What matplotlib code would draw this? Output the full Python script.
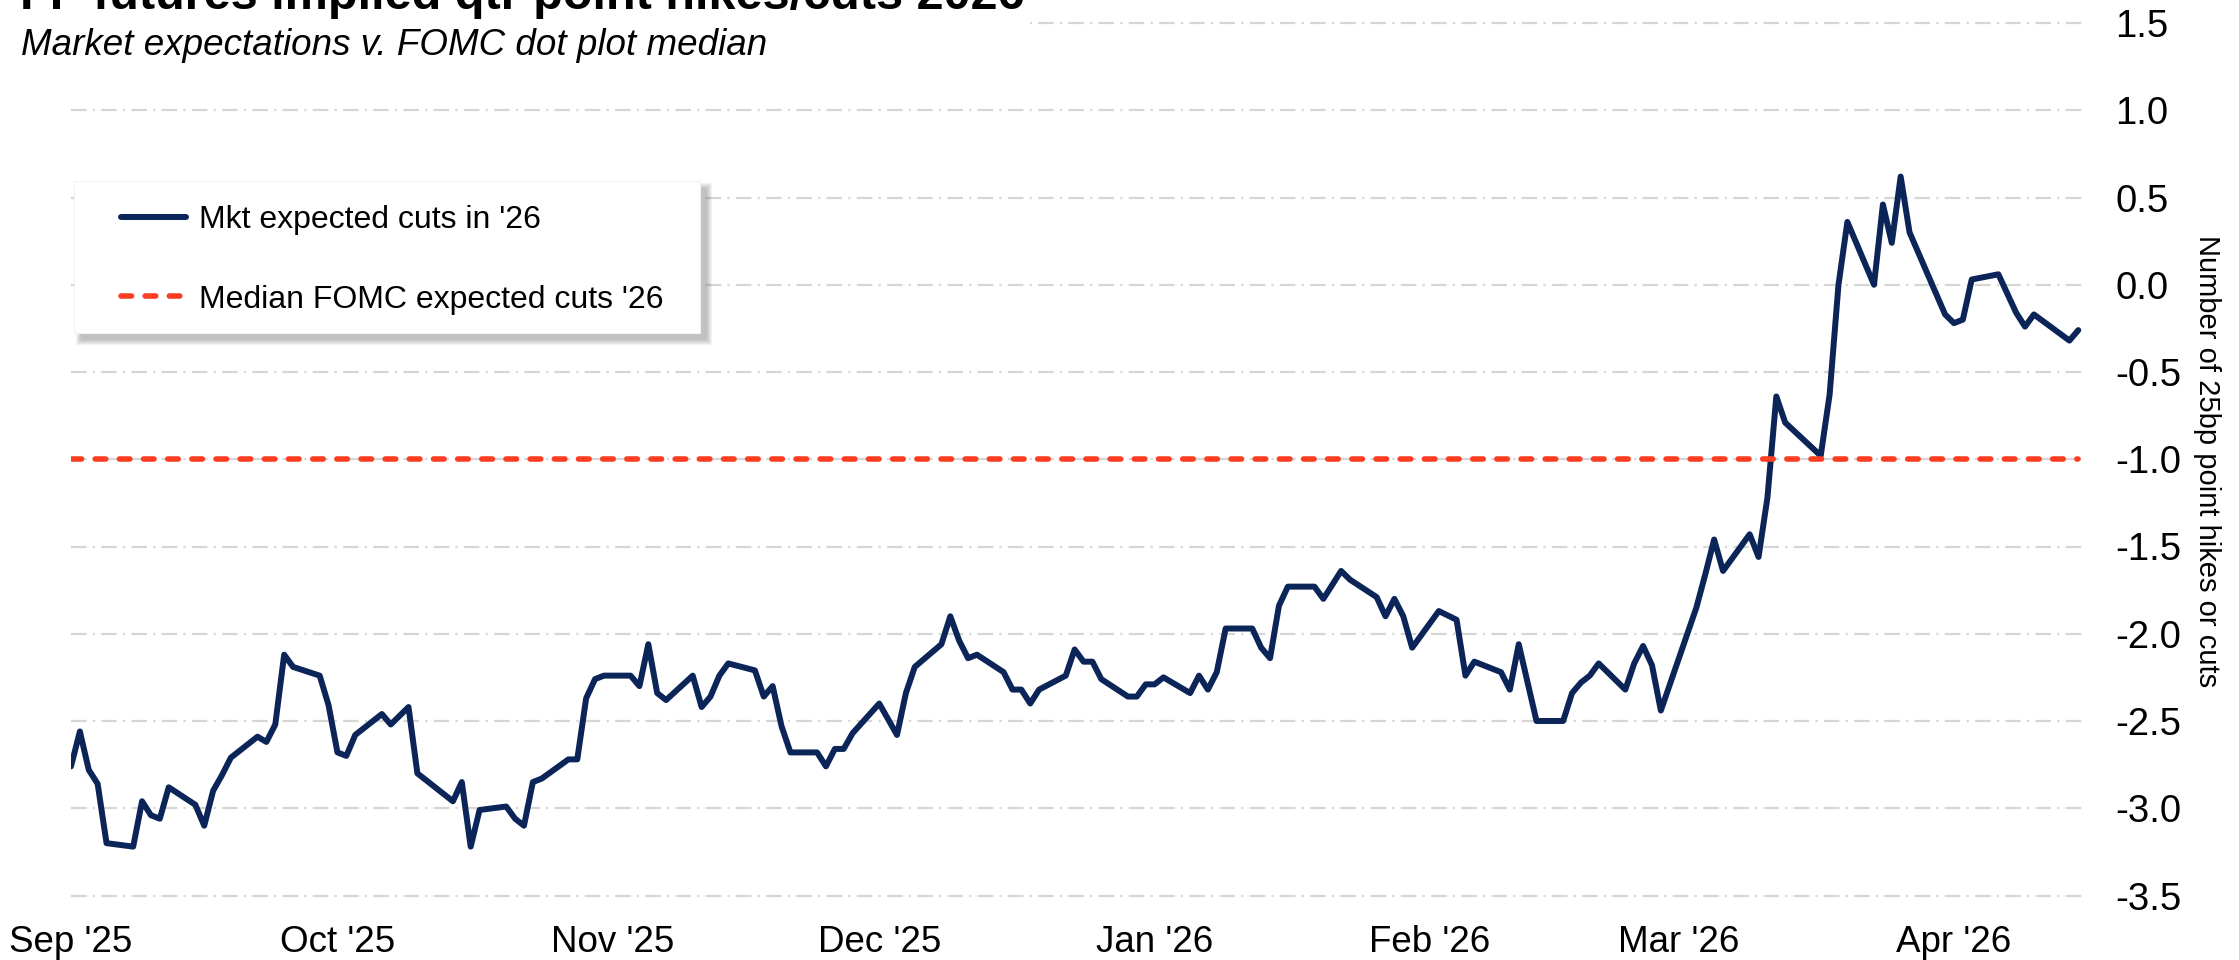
import matplotlib
matplotlib.use("Agg")
import matplotlib.pyplot as plt
import matplotlib.dates as mdates
from matplotlib.patches import Rectangle
from matplotlib.lines import Line2D
import pandas as pd

# ---------------- data ----------------
dates = [
    "2025-09-01", "2025-09-02", "2025-09-03", "2025-09-04", "2025-09-05",
    "2025-09-08", "2025-09-09", "2025-09-10", "2025-09-11", "2025-09-12",
    "2025-09-15", "2025-09-16", "2025-09-17", "2025-09-18", "2025-09-19",
    "2025-09-22", "2025-09-23", "2025-09-24", "2025-09-25", "2025-09-26",
    "2025-09-29", "2025-09-30", "2025-10-01", "2025-10-02", "2025-10-03",
    "2025-10-06", "2025-10-07", "2025-10-09", "2025-10-10",
    "2025-10-14", "2025-10-15", "2025-10-16", "2025-10-17",
    "2025-10-20", "2025-10-21", "2025-10-22", "2025-10-23", "2025-10-24",
    "2025-10-27", "2025-10-28", "2025-10-29", "2025-10-30", "2025-10-31",
    "2025-11-03", "2025-11-04", "2025-11-05", "2025-11-06", "2025-11-07",
    "2025-11-10", "2025-11-11", "2025-11-12", "2025-11-13", "2025-11-14",
    "2025-11-17", "2025-11-18", "2025-11-19", "2025-11-20", "2025-11-21",
    "2025-11-24", "2025-11-25", "2025-11-26", "2025-11-27", "2025-11-28",
    "2025-12-01", "2025-12-03", "2025-12-04", "2025-12-05",
    "2025-12-08", "2025-12-09", "2025-12-10", "2025-12-11", "2025-12-12",
    "2025-12-15", "2025-12-16", "2025-12-17", "2025-12-18", "2025-12-19",
    "2025-12-22", "2025-12-23", "2025-12-24", "2025-12-25", "2025-12-26",
    "2025-12-29", "2025-12-30", "2025-12-31", "2026-01-01", "2026-01-02",
    "2026-01-05", "2026-01-06", "2026-01-07", "2026-01-08", "2026-01-09",
    "2026-01-12", "2026-01-13", "2026-01-14", "2026-01-15", "2026-01-16",
    "2026-01-19", "2026-01-20", "2026-01-22", "2026-01-23",
    "2026-01-26", "2026-01-27", "2026-01-28", "2026-01-29", "2026-01-30",
    "2026-02-02", "2026-02-04", "2026-02-05", "2026-02-06",
    "2026-02-09", "2026-02-10", "2026-02-11", "2026-02-13",
    "2026-02-16", "2026-02-17", "2026-02-18", "2026-02-19", "2026-02-20",
    "2026-02-23", "2026-02-24", "2026-02-25", "2026-02-26", "2026-02-27",
    "2026-03-03", "2026-03-04", "2026-03-05", "2026-03-06",
    "2026-03-09", "2026-03-10", "2026-03-11", "2026-03-12", "2026-03-13",
    "2026-03-17", "2026-03-18", "2026-03-19", "2026-03-20",
    "2026-03-23", "2026-03-24", "2026-03-25", "2026-03-26", "2026-03-27",
    "2026-03-31", "2026-04-01", "2026-04-02", "2026-04-03",
    "2026-04-06", "2026-04-08", "2026-04-09", "2026-04-10",
    "2026-04-14", "2026-04-15",
]
mkt_expected_cuts = [
    -2.76, -2.56, -2.78, -2.86, -3.20,
    -3.22, -2.96, -3.04, -3.06, -2.88,
    -2.98, -3.10, -2.90, -2.81, -2.71,
    -2.59, -2.62, -2.52, -2.12, -2.19,
    -2.24, -2.41, -2.68, -2.70, -2.58,
    -2.46, -2.52, -2.42, -2.80,
    -2.96, -2.85, -3.22, -3.01,
    -2.99, -3.06, -3.10, -2.85, -2.83,
    -2.72, -2.72, -2.37, -2.26, -2.24,
    -2.24, -2.30, -2.06, -2.34, -2.38,
    -2.24, -2.42, -2.36, -2.24, -2.17,
    -2.21, -2.36, -2.30, -2.53, -2.68,
    -2.68, -2.76, -2.66, -2.66, -2.57,
    -2.40, -2.58, -2.34, -2.19,
    -2.06, -1.90, -2.04, -2.14, -2.12,
    -2.22, -2.32, -2.32, -2.40, -2.32,
    -2.24, -2.09, -2.16, -2.16, -2.26,
    -2.36, -2.36, -2.29, -2.29, -2.25,
    -2.34, -2.24, -2.32, -2.22, -1.97,
    -1.97, -2.08, -2.14, -1.84, -1.73,
    -1.73, -1.80, -1.64, -1.69,
    -1.79, -1.90, -1.80, -1.90, -2.08,
    -1.87, -1.92, -2.24, -2.16,
    -2.22, -2.32, -2.06, -2.50,
    -2.50, -2.34, -2.28, -2.24, -2.17,
    -2.32, -2.17, -2.07, -2.18, -2.44,
    -1.85, -1.66, -1.46, -1.64,
    -1.43, -1.56, -1.22, -0.64, -0.79,
    -0.98, -0.63, 0.00, 0.36,
    0.00, 0.46, 0.24, 0.62, 0.30,
    -0.17, -0.22, -0.20, 0.03,
    0.06, -0.16, -0.24, -0.17,
    -0.32, -0.26,
]
fomc_median_cuts = -1.0
y_ticks = [-3.5, -3.0, -2.5, -2.0, -1.5, -1.0, -0.5, 0.0, 0.5, 1.0, 1.5]
series_labels = ["Mkt expected cuts in '26", "Median FOMC expected cuts '26"]
title_text = "FF futures implied qtr point hikes/cuts 2026"
subtitle_text = "Market expectations v. FOMC dot plot median"
ylabel_text = "Number of 25bp point hikes or cuts"

# ---------------- style ----------------
plt.rcParams["font.family"] = ["Liberation Sans", "DejaVu Sans"]
plt.rcParams["axes.unicode_minus"] = False
NAVY = "#0b2559"
RED = "#fc3d21"
GRID = "#d6d6d6"

W, H = 2239, 960
fig = plt.figure(figsize=(W / 100, H / 100), dpi=100)
ax = fig.add_axes([71 / W, 1 - 895.5 / H, (2082 - 71) / W, (895.5 - 23) / H])

x = pd.to_datetime(dates)

ax.set_ylim(-3.5, 1.5)
ax.set_xlim(pd.Timestamp("2025-09-01"), pd.Timestamp("2026-04-15 10:00"))

for yv in y_ticks:
    ax.axhline(yv, color=GRID, lw=1.6, linestyle=(0, (7, 2.8, 1, 2.8)),
               zorder=1, clip_on=False)

ax.plot(x, mkt_expected_cuts, color=NAVY, lw=4.3, solid_joinstyle="round",
        solid_capstyle="round", zorder=3)
ax.plot([x[0], x[-1]], [fomc_median_cuts, fomc_median_cuts], color=RED, lw=4.0,
        linestyle=(0, (1.9, 2.45)), dash_capstyle="round", zorder=4)

for s in ax.spines.values():
    s.set_visible(False)

ax.yaxis.tick_right()
ax.set_yticks(y_ticks)
ax.set_yticklabels([f"{v:.1f}" for v in y_ticks])
ax.tick_params(axis="y", length=0, pad=24, labelsize=27.5, colors="black")
ax.xaxis.set_major_locator(mdates.MonthLocator())
ax.xaxis.set_major_formatter(mdates.DateFormatter("%b '%y"))
ax.tick_params(axis="x", length=0, pad=21, labelsize=26.5, colors="black")

fig.text(2207 / W, 1 - 461 / H, ylabel_text, rotation=270, ha="center",
         va="center", fontsize=21)

# title block with white background covering the top gridline
fig.add_artist(Rectangle((0, 1 - 70 / H), 1030 / W, 70 / H,
                         transform=fig.transFigure, facecolor="white",
                         edgecolor="none", zorder=10))
fig.text(20 / W, 1 - 9 / H, title_text, fontsize=35, fontweight="bold",
         ha="left", va="baseline", zorder=11)
fig.text(21 / W, 1 - 55 / H, subtitle_text, fontsize=26.5, fontstyle="italic",
         ha="left", va="baseline", zorder=11)

# legend box with soft shadow
bx0, by0, bx1, by1 = 74, 181, 700, 333
for k in range(6):
    fig.add_artist(Rectangle(((bx0 + 7 - k) / W, 1 - (by1 + 7 + k) / H),
                             (bx1 - bx0 + 2 * k) / W, (by1 - by0 + 2 * k) / H,
                             transform=fig.transFigure, facecolor="#505050",
                             edgecolor="none", alpha=0.065, zorder=5))
fig.add_artist(Rectangle((bx0 / W, 1 - by1 / H), (bx1 - bx0) / W, (by1 - by0) / H,
                         transform=fig.transFigure, facecolor="white",
                         edgecolor="#f2f2f2", lw=0.8, zorder=6))

handles = [
    Line2D([], [], color=NAVY, lw=4.3, solid_capstyle="round"),
    Line2D([], [], color=RED, lw=4.0, linestyle=(0, (1.9, 2.45)),
           dash_capstyle="round"),
]
leg = fig.legend(handles, series_labels, loc="upper left",
                 bbox_to_anchor=(121 / W, 1 - 205 / H),
                 bbox_transform=fig.transFigure, borderaxespad=0, borderpad=0,
                 handlelength=2.04, handletextpad=0.41, labelspacing=1.55,
                 fontsize=23, frameon=False)
leg.set_zorder(7)

fig.savefig("out.png", dpi=100)
